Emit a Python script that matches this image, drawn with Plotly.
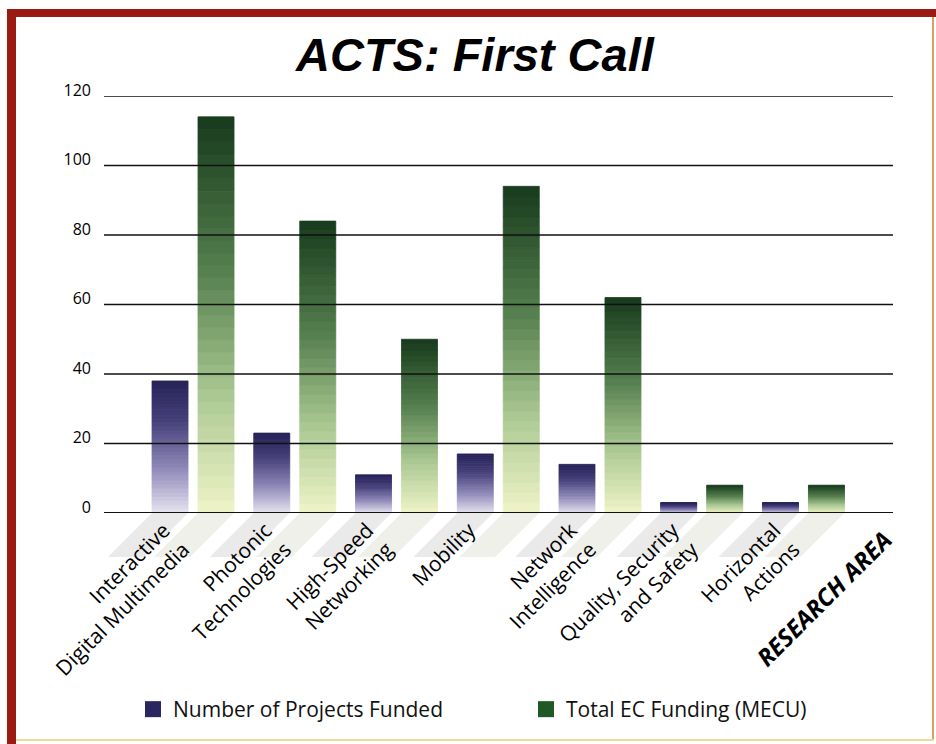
import plotly.graph_objects as go

# ---------------- data ----------------
categories = [
    "Interactive<br>Digital Multimedia",
    "Photonic<br>Technologies",
    "High-Speed<br>Networking",
    "Mobility",
    "Network<br>Intelligence",
    "Quality, Security<br>and Safety",
    "Horizontal<br>Actions",
]
projects_funded = [38, 23, 11, 17, 14, 3, 3]
ec_funding_mecu = [114, 84, 50, 94, 62, 8, 8]
y_ticks = [0, 20, 40, 60, 80, 100, 120]

series_names = ["Number of Projects Funded", "Total EC Funding (MECU)"]

# ---------------- layout geometry (pixels) ----------------
W, H = 936, 744
PL, PR, PT, PB = 104, 893, 96, 513  # plot area edges
XR = [-0.875, 6.88]                  # category axis range


def px_x(px):
    return (px - PL) / (PR - PL)


def px_y(py):
    return (PB - py) / (PB - PT)


def cat_to_paper(v):
    return (v - XR[0]) / (XR[1] - XR[0])


# gradient stops (bottom -> top)
purple_stops = [(0.0, (230, 228, 240)), (0.35, (140, 134, 182)), (0.7, (70, 64, 122)), (1.0, (38, 34, 88))]
green_stops = [(0.0, (240, 244, 200)), (0.3, (170, 200, 146)), (0.6, (88, 130, 80)), (1.0, (22, 58, 28))]


def interp(stops, t):
    for (t0, c0), (t1, c1) in zip(stops[:-1], stops[1:]):
        if t <= t1:
            f = (t - t0) / (t1 - t0) if t1 > t0 else 0
            c = [round(a + (b - a) * f) for a, b in zip(c0, c1)]
            return "rgb(%d,%d,%d)" % tuple(c)
    return "rgb(%d,%d,%d)" % stops[-1][1]


fig = go.Figure()

N = 32
BW = 0.354
OFFSETS = [-0.403, 0.049]
for values, stops, offset in [
    (projects_funded, purple_stops, OFFSETS[0]),
    (ec_funding_mecu, green_stops, OFFSETS[1]),
]:
    for k in range(N):
        col = interp(stops, (k + 0.5) / N)
        fig.add_trace(go.Bar(
            x=categories,
            y=[v / N for v in values],
            base=[v * k / N for v in values],
            width=BW,
            offset=offset,
            marker=dict(color=col, line=dict(width=0.8, color=col)),
            showlegend=False,
            hoverinfo="skip",
        ))

# legend entries
for name, col in zip(series_names, ["#2a2660", "#1f5a26"]):
    fig.add_trace(go.Scatter(
        x=[None], y=[None], mode="markers", name=name,
        marker=dict(symbol="square", size=24, color=col),
    ))

shapes = []
# soft drop shadows beneath each bar (decorative, below the axis)
SHADOW_DX, SHADOW_DY = 44, 44  # pixels
dxp = SHADOW_DX / (PR - PL)
dyp = SHADOW_DY / (PB - PT)
for i in range(len(categories)):
    for off, fill in zip(OFFSETS, ["rgba(150,150,150,0.2)", "rgba(175,178,150,0.2)"]):
        xa = cat_to_paper(i + off)
        xb = cat_to_paper(i + off + BW)
        path = "M %f,0 L %f,0 L %f,%f L %f,%f Z" % (xa, xb, xb - dxp, -dyp, xa - dxp, -dyp)
        shapes.append(dict(type="path", xref="paper", yref="paper", path=path,
                           fillcolor=fill, line=dict(width=0), layer="below"))
# gridlines above bars
for t in y_ticks:
    shapes.append(dict(type="line", xref="paper", yref="y", x0=0, x1=1, y0=t, y1=t,
                       line=dict(color="#111111", width=1.6 if t else 2), layer="above"))
# frame
red = "#9b1b14"
shapes.append(dict(type="rect", xref="paper", yref="paper", x0=px_x(7), x1=px_x(16),
                   y0=px_y(744), y1=px_y(9), fillcolor=red, line=dict(width=0), layer="above"))
shapes.append(dict(type="rect", xref="paper", yref="paper", x0=px_x(7), x1=px_x(936),
                   y0=px_y(17), y1=px_y(9), fillcolor=red, line=dict(width=0), layer="above"))
shapes.append(dict(type="rect", xref="paper", yref="paper", x0=px_x(932), x1=px_x(934),
                   y0=px_y(741), y1=px_y(17), fillcolor="#d9a066", line=dict(width=0), layer="above"))
shapes.append(dict(type="rect", xref="paper", yref="paper", x0=px_x(16), x1=px_x(934),
                   y0=px_y(741), y1=px_y(739), fillcolor="#efd79a", line=dict(width=0), layer="above"))

fig.update_layout(
    width=W, height=H,
    margin=dict(l=PL, r=W - PR, t=PT, b=H - PB, autoexpand=False),
    paper_bgcolor="white", plot_bgcolor="white",
    barmode="overlay",
    shapes=shapes,
    showlegend=True,
    legend=dict(orientation="h", x=px_x(133), y=px_y(689), xanchor="left", yanchor="top",
                font=dict(family="Open Sans", size=21, color="#111111"),
                entrywidth=348, entrywidthmode="pixels", itemsizing="trace",
                bgcolor="rgba(0,0,0,0)"),
    annotations=[
        dict(text="<b><i>ACTS: First Call</i></b>", xref="paper", yref="paper",
             x=px_x(475), y=px_y(55), xanchor="center", yanchor="middle", showarrow=False,
             font=dict(family="Liberation Sans Narrow, Arial Narrow, sans-serif", size=47, color="#000000")),
        dict(text="<b><i>RESEARCH AREA</i></b>", xref="paper", yref="paper",
             x=px_x(823), y=px_y(598), xanchor="center", yanchor="middle", showarrow=False,
             textangle=-45,
             font=dict(family="Open Sans", size=24, color="#000000")),
    ],
)

fig.update_xaxes(
    type="category", range=XR, showgrid=False, showline=False, zeroline=False,
    automargin=False,
    ticks="", tickangle=-45, tickfont=dict(family="Open Sans", size=21, color="#000000"),
    ticklabelshift=-29,
)
fig.update_yaxes(
    range=[0, 120], tickvals=y_ticks, showgrid=False, zeroline=False, showline=False,
    automargin=False,
    ticks="", tickfont=dict(family="Open Sans", size=16, color="#000000"),
    ticklabelstandoff=12, ticklabelshift=-6,
)

fig.write_html("out.html", config={"displayModeBar": False},
               post_script="document.body.style.margin='0px';")
